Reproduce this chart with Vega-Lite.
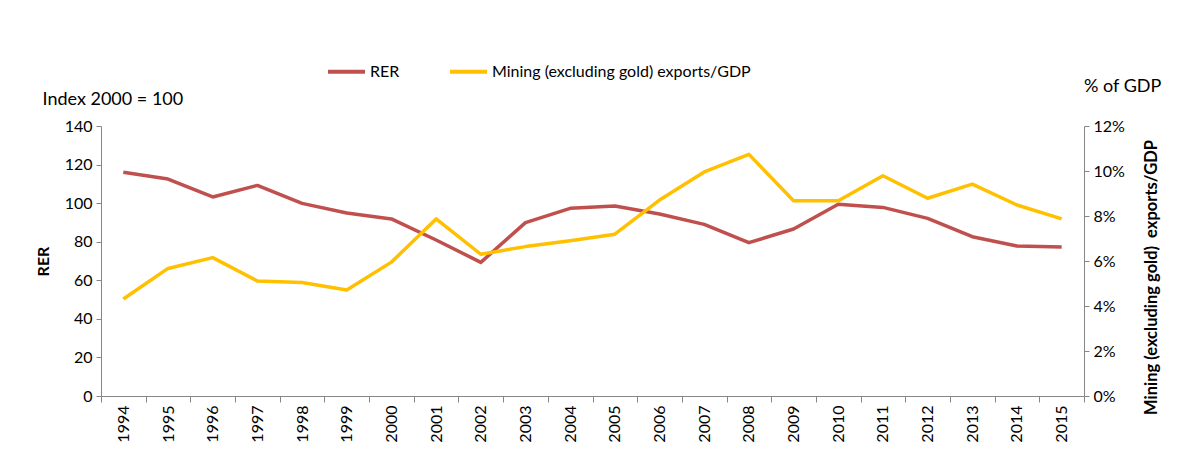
{
  "$schema": "https://vega.github.io/schema/vega-lite/v6.json",
  "width": 983,
  "height": 270,
  "autosize": {"type": "none"},
  "padding": {"left": 101, "top": 126, "right": 98, "bottom": 58},
  "background": "white",
  "config": {
    "view": {"stroke": null},
    "font": "Lato",
    "axis": {
      "grid": false,
      "domainColor": "#868686",
      "tickColor": "#868686",
      "labelColor": "#000000",
      "titleColor": "#000000",
      "labelFont": "Lato",
      "titleFont": "Lato",
      "labelFontSize": 16
    }
  },
  "title": {
    "text": "% of GDP",
    "anchor": "end",
    "frame": "group",
    "align": "left",
    "baseline": "alphabetic",
    "dx": 0,
    "dy": 79,
    "offset": 20,
    "fontSize": 18,
    "fontWeight": "normal",
    "font": "Lato",
    "color": "#000000"
  },
  "data": {
    "values": [
      {"year": "1994", "rer": 116.0, "mining": 0.0431},
      {"year": "1995", "rer": 112.5, "mining": 0.0567},
      {"year": "1996", "rer": 103.2, "mining": 0.0615},
      {"year": "1997", "rer": 109.2, "mining": 0.0511},
      {"year": "1998", "rer": 99.9, "mining": 0.0504},
      {"year": "1999", "rer": 94.9, "mining": 0.0471},
      {"year": "2000", "rer": 91.8, "mining": 0.0595},
      {"year": "2001", "rer": 80.9, "mining": 0.0787},
      {"year": "2002", "rer": 69.3, "mining": 0.063},
      {"year": "2003", "rer": 89.9, "mining": 0.0664},
      {"year": "2004", "rer": 97.3, "mining": 0.069},
      {"year": "2005", "rer": 98.5, "mining": 0.0719},
      {"year": "2006", "rer": 94.4, "mining": 0.0871},
      {"year": "2007", "rer": 89.0, "mining": 0.0996},
      {"year": "2008", "rer": 79.5, "mining": 0.1074},
      {"year": "2009", "rer": 86.6, "mining": 0.0868},
      {"year": "2010", "rer": 99.4, "mining": 0.0868},
      {"year": "2011", "rer": 97.8, "mining": 0.0979},
      {"year": "2012", "rer": 92.1, "mining": 0.0879},
      {"year": "2013", "rer": 82.6, "mining": 0.0942},
      {"year": "2014", "rer": 77.8, "mining": 0.0849},
      {"year": "2015", "rer": 77.2, "mining": 0.0787}
    ]
  },
  "encoding": {
    "x": {
      "field": "year",
      "type": "ordinal",
      "bandPosition": 0.5,
      "scale": {"type": "band", "paddingInner": 0, "paddingOuter": 0},
      "axis": {
        "title": "Index 2000 = 100",
        "titleX": -59,
        "titleY": -292,
        "titleAngle": 0,
        "titleAlign": "left",
        "titleBaseline": "alphabetic",
        "titleFontSize": 18,
        "titleFontWeight": "normal",
        "labelAngle": 270,
        "labelPadding": 3,
        "tickBand": "extent",
        "tickSize": 6
      }
    }
  },
  "layer": [
    {
      "mark": {"type": "line", "strokeWidth": 3.5, "strokeJoin": "round"},
      "encoding": {
        "y": {
          "field": "rer",
          "type": "quantitative",
          "scale": {"domain": [0, 140], "nice": false},
          "axis": {
            "values": [0, 20, 40, 60, 80, 100, 120, 140],
            "tickSize": 5,
            "labelPadding": 4,
            "title": "RER",
            "titleFontSize": 16,
            "titleFontWeight": "bold",
            "titleAngle": 270,
            "titleX": -53,
            "titleY": 135,
            "titleAlign": "center",
            "titleBaseline": "alphabetic"
          }
        },
        "color": {
          "datum": "RER",
          "scale": {
            "domain": ["RER", "Mining (excluding gold) exports/GDP"],
            "range": ["#C0504D", "#FFC000"]
          },
          "legend": {
            "orient": "none",
            "legendX": 225,
            "legendY": -75,
            "direction": "horizontal",
            "title": null,
            "symbolType": "stroke",
            "symbolSize": 1369,
            "symbolStrokeWidth": 4,
            "labelFontSize": 16,
            "labelFont": "Lato",
            "labelColor": "#000000",
            "labelLimit": 0,
            "columnPadding": 42,
            "labelOffset": 3
          }
        }
      }
    },
    {
      "mark": {"type": "line", "strokeWidth": 3.5, "strokeJoin": "round"},
      "encoding": {
        "y": {
          "field": "mining",
          "type": "quantitative",
          "scale": {"domain": [0, 0.12], "nice": false},
          "axis": {
            "orient": "right",
            "values": [0, 0.02, 0.04, 0.06, 0.08, 0.1, 0.12],
            "format": ".0%",
            "tickSize": 5,
            "labelPadding": 4,
            "title": "Mining (excluding gold)\u00a0 exports/GDP",
            "titleFontSize": 16.5,
            "titleFontWeight": "bold",
            "titleAngle": 270,
            "titleX": 72,
            "titleY": 151,
            "titleAlign": "center",
            "titleBaseline": "alphabetic"
          }
        },
        "color": {"datum": "Mining (excluding gold) exports/GDP"}
      }
    }
  ],
  "resolve": {"scale": {"y": "independent"}}
}
